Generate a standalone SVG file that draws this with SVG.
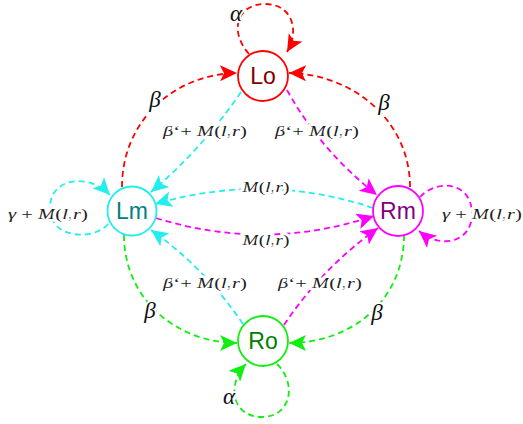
<svg xmlns="http://www.w3.org/2000/svg" width="523" height="424" viewBox="0 0 523 424">
<style>
.e{fill:none;stroke-width:1.8;stroke-dasharray:6 4}
.r{stroke:#ff0000}.c{stroke:#22eeee}.m{stroke:#ff00ff}.g{stroke:#11ee11}
.n{fill:#fff;stroke-width:1.8}
.nt{font-family:"Liberation Sans",Arial,sans-serif;font-size:23px;text-anchor:middle}
.lb{font-family:"Liberation Serif","Times New Roman",serif;font-size:14.5px;text-anchor:middle;fill:#222;paint-order:stroke;stroke:#fff;stroke-width:5px;stroke-linejoin:round}
.big{font-family:"Liberation Serif","Times New Roman",serif;font-size:23px;font-style:italic;text-anchor:middle;fill:#111;paint-order:stroke;stroke:#fff;stroke-width:4px}
.i{font-style:italic}
</style>
<defs>
<marker id="ar" markerUnits="userSpaceOnUse" markerWidth="20" markerHeight="18" refX="17" refY="8" orient="auto" viewBox="0 0 20 18"><path d="M17,8 L0,0 L4,8 L0,16 Z" fill="#ff0000"/></marker>
<marker id="ac" markerUnits="userSpaceOnUse" markerWidth="20" markerHeight="18" refX="17" refY="8" orient="auto" viewBox="0 0 20 18"><path d="M17,8 L0,0 L4,8 L0,16 Z" fill="#22eeee"/></marker>
<marker id="am" markerUnits="userSpaceOnUse" markerWidth="20" markerHeight="18" refX="17" refY="8" orient="auto" viewBox="0 0 20 18"><path d="M17,8 L0,0 L4,8 L0,16 Z" fill="#ff00ff"/></marker>
<marker id="ag" markerUnits="userSpaceOnUse" markerWidth="20" markerHeight="18" refX="17" refY="8" orient="auto" viewBox="0 0 20 18"><path d="M17,8 L0,0 L4,8 L0,16 Z" fill="#11ee11"/></marker>
</defs>
<g id="connectors">
<path class="e r" d="M122,187 C122,120 175,74 237,73" marker-end="url(#ar)"/>
<path class="e r" d="M410,187 C410,120 352,74 289,73" marker-end="url(#ar)"/>
<path class="e r" d="M249,54 C228,30 238,4 265,4 C292,4 300,30 287,52" marker-end="url(#ar)"/>
<path class="e c" d="M241,92 Q203,148 151,192" marker-end="url(#ac)"/>
<path class="e m" d="M287,90 Q320,150 377,195" marker-end="url(#am)"/>
<path class="e c" d="M373,208 Q265,172 155,204" marker-end="url(#ac)"/>
<path class="e m" d="M156,218 Q265,252 374,216" marker-end="url(#am)"/>
<path class="e c" d="M243,324 Q205,268 151,230" marker-end="url(#ac)"/>
<path class="e m" d="M284,325 Q322,268 378,228" marker-end="url(#am)"/>
<path class="e g" d="M124,235 C124,300 178,343 237,343" marker-end="url(#ag)"/>
<path class="e g" d="M404,235 C404,300 352,343 289,343" marker-end="url(#ag)"/>
<path class="e g" d="M277,364 C298,385 290,417 262,417 C232,417 226,385 246,364" marker-end="url(#ag)"/>
<path class="e c" d="M108,224 C95,240 52,240 50,210 C48,178 88,172 110,195" marker-end="url(#ac)"/>
<path class="e m" d="M420,197 C435,180 470,180 472,212 C473,242 442,250 419,231" marker-end="url(#am)"/>
</g>
<g id="labels">
<text class="big" x="155" y="107">β</text>
<text class="big" x="384" y="110">β</text>
<text class="big" x="150" y="318">β</text>
<text class="big" x="377" y="320">β</text>
<text class="big" x="236" y="21">α</text>
<text class="big" x="229" y="404">α</text>
<text class="lb" x="205" y="136" textLength="84" lengthAdjust="spacingAndGlyphs"><tspan class="i">β</tspan>‘+ <tspan class="i">M</tspan>(<tspan class="i">l</tspan>,<tspan class="i">r</tspan>)</text>
<text class="lb" x="317" y="136" textLength="84" lengthAdjust="spacingAndGlyphs"><tspan class="i">β</tspan>‘+ <tspan class="i">M</tspan>(<tspan class="i">l</tspan>,<tspan class="i">r</tspan>)</text>
<text class="lb" x="205" y="288" textLength="84" lengthAdjust="spacingAndGlyphs"><tspan class="i">β</tspan>‘+ <tspan class="i">M</tspan>(<tspan class="i">l</tspan>,<tspan class="i">r</tspan>)</text>
<text class="lb" x="320" y="288" textLength="84" lengthAdjust="spacingAndGlyphs"><tspan class="i">β</tspan>‘+ <tspan class="i">M</tspan>(<tspan class="i">l</tspan>,<tspan class="i">r</tspan>)</text>
<text class="lb" x="266" y="192" textLength="47" lengthAdjust="spacingAndGlyphs"><tspan class="i">M</tspan>(<tspan class="i">l</tspan>,<tspan class="i">r</tspan>)</text>
<text class="lb" x="266" y="245" textLength="47" lengthAdjust="spacingAndGlyphs"><tspan class="i">M</tspan>(<tspan class="i">l</tspan>,<tspan class="i">r</tspan>)</text>
<text class="lb" x="48" y="219" textLength="80" lengthAdjust="spacingAndGlyphs"><tspan class="i">γ</tspan> + <tspan class="i">M</tspan>(<tspan class="i">l</tspan>,<tspan class="i">r</tspan>)</text>
<text class="lb" x="482" y="219" textLength="80" lengthAdjust="spacingAndGlyphs"><tspan class="i">γ</tspan> + <tspan class="i">M</tspan>(<tspan class="i">l</tspan>,<tspan class="i">r</tspan>)</text>
</g>
<g id="Lo"><circle class="n" cx="263" cy="76" r="25" stroke="#ff0000"/><text class="nt" x="263" y="84" fill="#800000">Lo</text></g>
<g id="Lm"><circle class="n" cx="132" cy="211" r="24.5" stroke="#22eeee"/><text class="nt" x="132" y="219" fill="#008080">Lm</text></g>
<g id="Rm"><circle class="n" cx="398" cy="211" r="25" stroke="#ff00ff"/><text class="nt" x="398" y="219" fill="#800080">Rm</text></g>
<g id="Ro"><circle class="n" cx="263" cy="341" r="25" stroke="#11ee11"/><text class="nt" x="263" y="349" fill="#008000">Ro</text></g>
</svg>
